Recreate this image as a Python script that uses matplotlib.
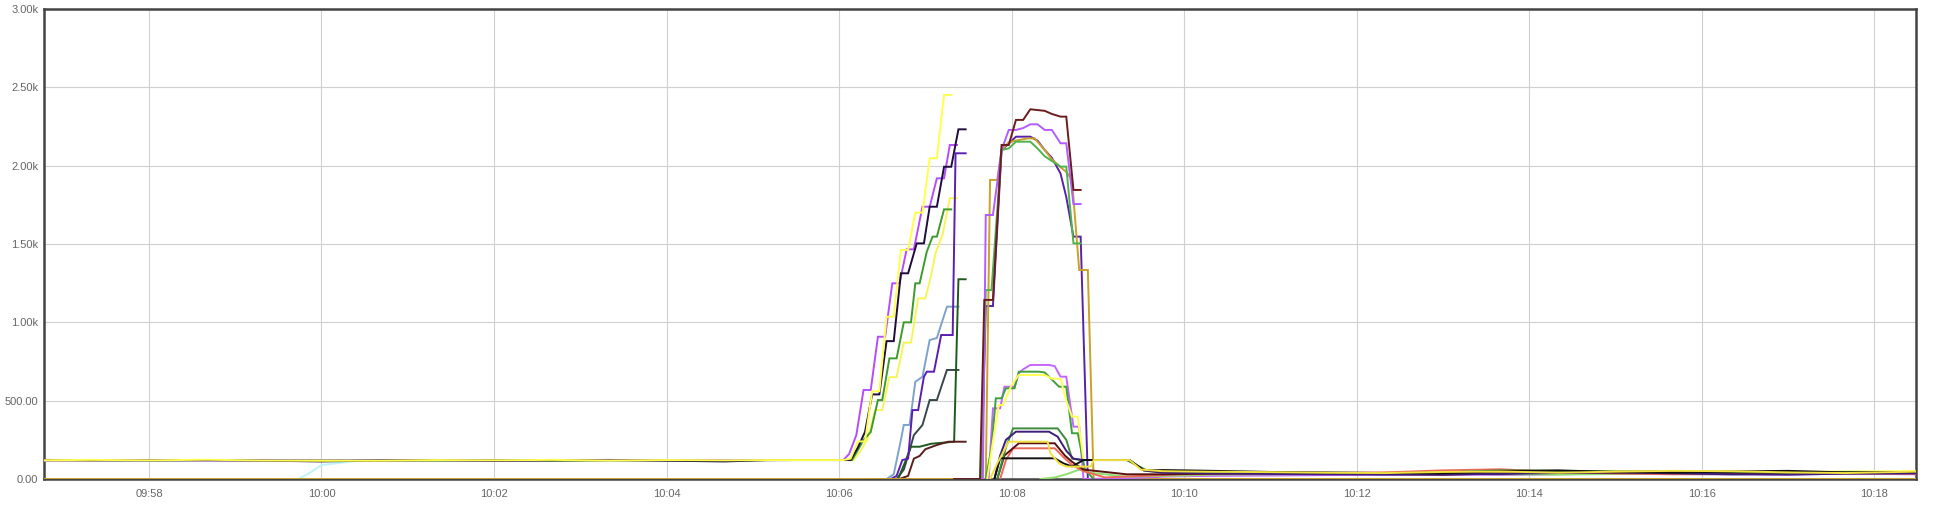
import matplotlib
matplotlib.use("Agg")
import matplotlib.pyplot as plt

# x values: seconds relative to 10:00:00
x_ticks = [-120, 0, 120, 240, 360, 480, 600, 720, 840, 960, 1080]
x_labels = ["09:58", "10:00", "10:02", "10:04", "10:06", "10:08",
            "10:10", "10:12", "10:14", "10:16", "10:18"]
y_ticks = [0, 500, 1000, 1500, 2000, 2500, 3000]
y_labels = ["0.00", "500.00", "1.00k", "1.50k", "2.00k", "2.50k", "3.00k"]
x_start, x_end = -193, 1109

# baseline segment before 10:06
base_t = [-193, -160, -120, -80, -40, 0, 40, 80, 120, 160, 200, 240, 280, 310, 330, 363]
a_base = [120, 122, 119, 123, 118, 116, 117, 121, 119, 122, 118, 121, 119, 121, 121, 121]
b_base = [118, 120, 121, 118, 120, 117, 119, 121, 118, 120, 122, 119, 121, 121, 121, 121]
c_base = [122, 119, 118, 121, 117, 112, 118, 120, 116, 119, 120, 117, 112, 120, 121, 121]
d_base = [119, 121, 120, 119, 121, 118, 120, 118, 121, 117, 119, 120, 118, 121, 121, 121]
e_base = [116, 118, 122, 120, 119, 121, 116, 119, 122, 118, 121, 118, 121, 121, 121, 121]

# first ramp (10:06 - 10:07:30)
a_rt = [368, 373, 378, 383, 388, 393, 398, 403, 408, 413, 418, 423, 428, 433, 438]
a_rv = [130, 240, 240, 560, 560, 1036, 1036, 1462, 1462, 1700, 1700, 2047, 2047, 2451, 2451]
b_rt = [367, 372, 377, 382, 387, 392, 397, 402, 407, 412, 418, 423, 428, 433, 437, 442]
b_rv = [160, 281, 568, 568, 908, 908, 1249, 1249, 1466, 1466, 1738, 1738, 1919, 1919, 2132, 2132]
c_rt = [368, 373, 378, 383, 388, 393, 398, 403, 408, 414, 419, 423, 428, 433, 438, 443, 448]
c_rv = [121, 200, 300, 540, 540, 880, 880, 1313, 1313, 1504, 1504, 1738, 1738, 1993, 1993, 2232, 2232]
d_rt = [369, 374, 377, 382, 387, 390, 395, 400, 405, 410, 413, 416, 421, 425, 428, 433, 438]
d_rv = [121, 200, 249, 300, 504, 504, 770, 770, 1000, 1000, 1249, 1249, 1451, 1547, 1547, 1721, 1721]
e_rt = [370, 375, 380, 385, 390, 395, 400, 405, 410, 415, 420, 424, 427, 432, 437, 442]
e_rv = [121, 180, 260, 440, 440, 650, 650, 870, 870, 1153, 1153, 1300, 1440, 1560, 1792, 1792]

f_t = [380, 396, 400, 404, 408, 411, 415, 419, 421, 426, 431, 439, 441, 448]
f_v = [0, 0, 20, 121, 130, 440, 440, 653, 685, 685, 919, 919, 2079, 2079]
g_t = [380, 393, 398, 403, 405, 409, 413, 418, 423, 428, 435, 443]
g_v = [0, 0, 30, 250, 345, 345, 620, 653, 887, 900, 1100, 1100]
h_t = [385, 400, 405, 408, 412, 418, 423, 428, 435, 443]
h_v = [0, 0, 60, 150, 280, 345, 504, 504, 696, 696]
i_t = [385, 401, 406, 410, 416, 424, 440, 443, 448]
i_v = [0, 0, 110, 206, 206, 225, 238, 1275, 1275]
j_t = [385, 402, 408, 412, 416, 420, 428, 436, 448]
j_v = [0, 0, 20, 130, 147, 190, 217, 238, 238]

# second hump (10:07:40 - 10:09)
k_t = [440, 458, 461, 467, 473, 478, 483, 488, 493, 503, 508, 514, 518, 523, 528]
k_v = [0, 0, 1143, 1143, 2132, 2132, 2292, 2292, 2360, 2350, 2330, 2313, 2313, 1845, 1845]
l_t = [456, 460, 462, 467, 473, 478, 483, 488, 493, 498, 503, 508, 514, 518, 523, 528]
l_v = [0, 0, 1685, 1685, 2100, 2228, 2228, 2240, 2264, 2264, 2228, 2228, 2143, 2143, 1755, 1755]
m_t = [456, 459, 462, 467, 473, 478, 483, 493, 498, 503, 508, 514, 518, 523, 528, 533, 565, 585]
m_v = [0, 0, 1104, 1104, 2100, 2140, 2185, 2185, 2160, 2100, 2050, 1950, 1800, 1547, 1547, 0, 0, 20]
n_t = [457, 459, 462, 466, 473, 478, 483, 493, 498, 503, 508, 514, 518, 523, 528]
n_v = [0, 0, 1206, 1206, 2100, 2110, 2153, 2153, 2110, 2060, 2030, 1994, 1994, 1504, 1504]
o_t = [-193, 456, 462, 465, 470, 473, 478, 483, 491, 496, 503, 508, 514, 518, 522, 527, 533, 537, 1109]
o_v = [0, 0, 0, 1909, 1909, 2100, 2150, 2160, 2174, 2174, 2100, 2040, 1990, 1960, 1908, 1334, 1334, 0, 0]

p_t = [460, 464, 467, 472, 475, 482, 485, 488, 493, 506, 510, 514, 518, 523, 527, 530, 560, 585]
p_v = [0, 0, 451, 451, 589, 589, 675, 700, 728, 728, 720, 653, 653, 334, 334, 0, 5, 15]
q_t = [462, 466, 469, 473, 476, 482, 485, 499, 503, 513, 518, 522, 526, 531, 537]
q_v = [0, 200, 515, 515, 579, 579, 685, 685, 680, 589, 589, 292, 292, 60, 0]
r_t = [463, 468, 471, 474, 480, 485, 503, 508, 514, 518, 522, 526, 530, 562, 572, 585]
r_v = [0, 300, 472, 472, 600, 664, 664, 640, 640, 500, 398, 398, 121, 121, 60, 40]
s_t = [470, 476, 481, 512, 518, 522, 528, 560, 575, 585]
s_v = [0, 200, 323, 323, 250, 130, 121, 121, 50, 45]
t_t = [468, 472, 476, 483, 506, 512, 518, 523, 530, 562, 572, 585]
t_v = [0, 150, 250, 302, 302, 270, 180, 130, 121, 121, 55, 40]
u_t = [465, 470, 478, 505, 507, 513, 518, 535, 537, 562, 570, 585]
u_v = [0, 100, 238, 238, 164, 100, 79, 79, 121, 121, 60, 50]
v_t = [470, 475, 485, 510, 517, 522, 530, 560, 585]
v_v = [0, 150, 228, 228, 150, 110, 60, 30, 30]
w_t = [472, 476, 481, 510, 516, 522, 530, 545, 585]
w_v = [0, 120, 196, 196, 140, 90, 50, 10, 25]
x_t = [468, 472, 510, 516, 522, 530, 562, 572, 585]
x_v = [0, 132, 132, 100, 80, 121, 121, 55, 57]
y_t = [500, 510, 518, 527, 535, 560, 585]
y_v = [0, 10, 30, 60, 40, 15, 20]
cyan_t = [-32, -16, -8, 0, 10, 25]
cyan_v = [0, 0, 40, 89, 100, 115]

# low tail after 10:09:40
tail_t = [600, 620, 660, 700, 740, 780, 820, 860, 900, 940, 980, 1020, 1060, 1109]
x_tail = [55, 52, 45, 42, 38, 36, 50, 55, 45, 40, 48, 52, 42, 45]
u_tail = [48, 46, 44, 40, 38, 45, 48, 40, 47, 52, 50, 42, 38, 47]
w_tail = [30, 32, 36, 38, 42, 55, 62, 45, 35, 30, 32, 38, 35, 33]
t_tail = [38, 35, 32, 30, 28, 30, 32, 38, 42, 36, 30, 28, 34, 36]
s_tail = [45, 42, 40, 38, 35, 42, 55, 52, 48, 50, 46, 40, 44, 42]
v_tail = [32, 34, 38, 35, 32, 28, 35, 42, 40, 45, 38, 35, 40, 38]
y_tail = [22, 28, 30, 32, 36, 34, 30, 28, 32, 35, 38, 42, 36, 40]
p_tail = [18, 20, 22, 25, 28, 30, 26, 30, 35, 38, 32, 28, 34, 30]
r_tail = [42, 42, 38, 35, 40, 44, 40, 48, 50, 45, 40, 44, 48, 50]
m_tail = [25, 28, 32, 35, 30, 28, 34, 38, 36, 32, 30, 34, 36, 32]

series = [
    ("#c0f4f6", cyan_t, cyan_v),
    ("#f5f55a", base_t + e_rt, e_base + e_rv),
    ("#3e9a2c", base_t + d_rt, d_base + d_rv),
    ("#b44dff", base_t + b_rt, b_base + b_rv),
    ("#1f0d3d", base_t + c_rt, c_base + c_rv),
    ("#ffff4d", base_t + a_rt, a_base + a_rv),
    ("#7fa2cc", g_t, g_v),
    ("#374747", h_t, h_v),
    ("#1e5a1e", i_t, i_v),
    ("#5a1f1f", j_t, j_v),
    ("#5a1fb0", f_t, f_v),
    ("#5722aa", m_t + tail_t, m_v + m_tail),
    ("#c9a227", o_t, o_v),
    ("#4db34d", n_t, n_v),
    ("#b35cff", l_t, l_v),
    ("#6b1d1d", k_t, k_v),
    ("#c466ff", p_t + tail_t, p_v + p_tail),
    ("#3f9e3f", q_t, q_v),
    ("#ffff55", r_t + tail_t, r_v + r_tail),
    ("#90e070", y_t + tail_t, y_v + y_tail),
    ("#ea6a5a", w_t + tail_t, w_v + w_tail),
    ("#5c1010", v_t + tail_t, v_v + v_tail),
    ("#3b8b3b", s_t + tail_t, s_v + s_tail),
    ("#3d1f7a", t_t + tail_t, t_v + t_tail),
    ("#111111", x_t + tail_t, x_v + x_tail),
    ("#f0e040", u_t + tail_t, u_v + u_tail),
]

fig = plt.figure(figsize=(19.38, 5.07), dpi=100)
ax = fig.add_axes([44 / 1938, 28 / 507, 1872 / 1938, 470 / 507])

for color, t, v in series:
    ax.plot(t, v, color=color, lw=1.4, solid_joinstyle="miter", zorder=3)

ax.set_xlim(x_start, x_end)
ax.set_ylim(0, 3000)
ax.set_xticks(x_ticks)
ax.set_xticklabels(x_labels)
ax.set_yticks(y_ticks)
ax.set_yticklabels(y_labels)
ax.grid(True, color="#d0d0d0", lw=0.8)
ax.set_axisbelow(True)
for sp in ax.spines.values():
    sp.set_color("#444444")
    sp.set_linewidth(1.8)
    sp.set_zorder(2)
ax.tick_params(length=0, labelsize=8, labelcolor="#666666")
ax.tick_params(axis="y", pad=4)
ax.tick_params(axis="x", pad=7)
for lab in ax.get_xticklabels() + ax.get_yticklabels():
    lab.set_fontfamily("Liberation Sans")

fig.savefig("out.png", dpi=100, facecolor="white")
